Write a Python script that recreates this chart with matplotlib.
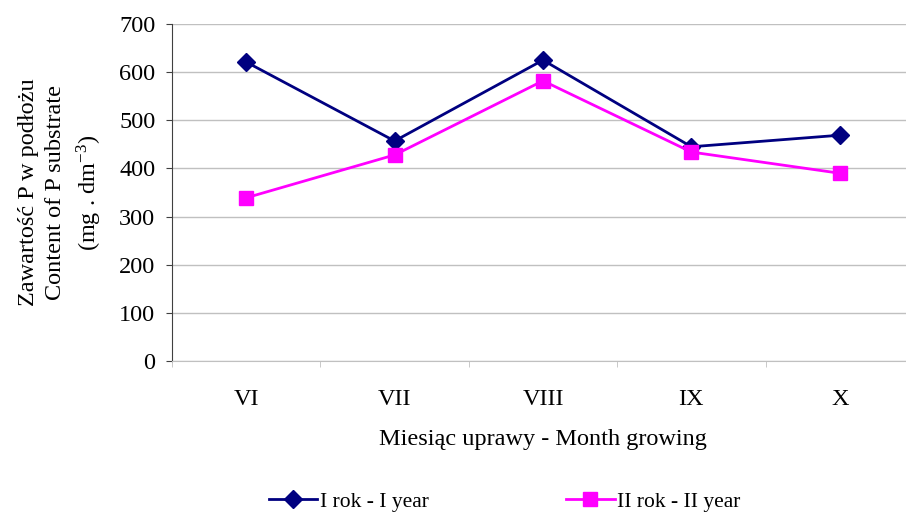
import matplotlib.pyplot as plt
from matplotlib.ticker import FixedLocator

plt.rcParams['font.family'] = ['Liberation Serif', 'DejaVu Serif']
plt.rcParams['mathtext.fontset'] = 'stix'

# months of the growing season
months = ["VI", "VII", "VIII", "IX", "X"]
year1 = [621, 457, 625, 445, 469]
year2 = [339, 428, 582, 434, 390]

FS = 17.5

fig = plt.figure(figsize=(9.06, 5.13), dpi=100)
ax = fig.add_axes([172 / 906, 1 - 361 / 513, 742 / 906, 337 / 513])

x = list(range(len(months)))
ax.plot(x, year1, color="#000080", marker="D", markersize=9, linewidth=2,
        label="I rok - I year")
ax.plot(x, year2, color="#ff00ff", marker="s", markersize=10.5, linewidth=2,
        label="II rok - II year")

ax.set_xlim(-0.5, len(months) - 0.5)
ax.set_ylim(0, 700)
ax.set_yticks(range(0, 701, 100))
ax.yaxis.grid(True, color="#c0c0c0", linewidth=1)
ax.set_axisbelow(True)

# category labels centred, tick marks between categories
ax.set_xticks(x)
ax.set_xticklabels(months)
ax.tick_params(axis="x", which="major", length=0, pad=20, labelsize=FS)
ax.xaxis.set_minor_locator(FixedLocator([i - 0.5 for i in range(len(months) + 1)]))
ax.tick_params(axis="x", which="minor", length=4, color="#c0c0c0")
ax.tick_params(axis="y", length=4, color="#404040", labelsize=FS, pad=8)

for side in ["top", "right"]:
    ax.spines[side].set_visible(False)
ax.spines["left"].set_color("#404040")
ax.spines["bottom"].set_color("#c0c0c0")

ax.set_xlabel("Miesiąc uprawy - Month growing", fontsize=FS, labelpad=14)
ax.set_ylabel("Zawartość P w podłożu\nContent of P substrate\n(mg . dm$^{\\mathregular{-3}}$)",
              fontsize=FS, labelpad=11, linespacing=1.38)

fig.legend(loc="lower center", bbox_to_anchor=(0.557, -0.035), ncol=2,
           frameon=False, fontsize=15.5, handlelength=2.25, columnspacing=6.4,
           handletextpad=0.12)

fig.savefig("out.png", dpi=100)
